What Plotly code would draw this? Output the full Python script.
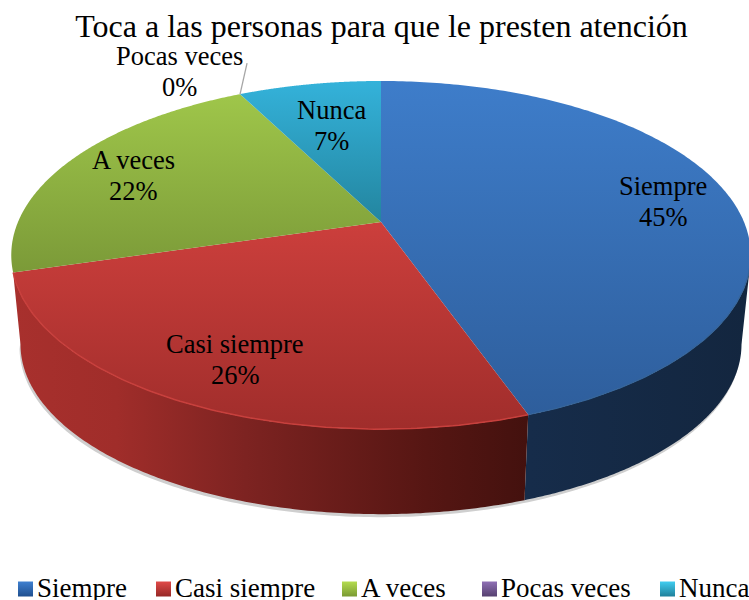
import numpy as np
import plotly.graph_objects as go

# ---- data ----
categories = ["Siempre", "Casi siempre", "A veces", "Pocas veces", "Nunca"]
values = [44.6, 25.8, 22.1, 0.0, 7.5]
shown_percent = [45, 26, 22, 0, 7]
title_text = "Toca a las personas para que le presten atención"

# ---- style ----
FONT = "Liberation Serif"
top_colors = {
    "Siempre": ("#3e7dca", "#2e5e9c"),
    "Casi siempre": ("#cc3f3c", "#a02d2b"),
    "A veces": ("#9fc64a", "#7b9a38"),
    "Pocas veces": ("#8064a2", "#5c4776"),
    "Nunca": ("#34b2da", "#23859f"),
}
legend_colors = {
    "Siempre": ("#3f80d0", "#1f4f8f"), "Casi siempre": ("#e04a48", "#962826"),
    "A veces": ("#b4dc50", "#7a9a33"), "Pocas veces": ("#8f70b5", "#55406f"),
    "Nunca": ("#40cdf0", "#20809a"),
}
label_pos = {
    "Siempre": (663, 201), "Casi siempre": (235, 359.5), "A veces": (133, 175.5),
    "Pocas veces": (179, 71), "Nunca": (331, 125),
}
LINE_OFFSET = 15.5
legend_swatch_x = {"Siempre": 25.5, "Casi siempre": 163.5, "A veces": 349.5,
                   "Pocas veces": 489.5, "Nunca": 667.5}
LEGEND_Y, LEGEND_TEXT_Y, LEGEND_TEXT_GAP = 589, 587.5, 11.5
wall_scales = {
    "Siempre": ("#162c4a", "#13263f", 530, 749),
    "Casi siempre": ([[0, "#a8302d"], [0.2, "#a02d2a"], [0.45, "#7d2321"],
                      [0.8, "#561613"], [1, "#43110e"]], None, 13, 530),
}

# ---- projection of the pie disc ----
CX, CY, KX, KY, B = 381, 222, 363, 167.8, 0.19
DEPTH_S, FRONT_BOTTOM, FRONT_TOP = 0.975, 514, 429


def rim(deg, scale=1.0, cy=CY):
    t = np.radians(deg)
    u, v = np.sin(t), -np.cos(t)
    d = 1 - B * v
    return CX + scale * KX * u / d, cy + scale * KY * v / d


BOTTOM_CY = FRONT_BOTTOM - DEPTH_S * (FRONT_TOP - CY)
total = sum(values)
edges = np.concatenate([[0], np.cumsum(values)]) / total * 360
span = {c: (edges[i], edges[i + 1]) for i, c in enumerate(categories)}

fig = go.Figure()

# soft shadow under the wall
sb = span["Casi siempre"][1] + 5
sx, sy = rim(np.linspace(95, sb, 200), DEPTH_S, BOTTOM_CY)
tx, ty = rim(np.linspace(sb, 95, 200), DEPTH_S, BOTTOM_CY - 6)
fig.add_trace(go.Scatter(
    x=np.concatenate([sx - 1, tx]), y=np.concatenate([sy + 3, ty]),
    fill="toself", mode="none", fillcolor="#cfcfcf", showlegend=False, hoverinfo="skip"))

# side walls: the rim and the bottom edge end at their own silhouette points
wall_limits = {
    "Siempre": ((105, span["Siempre"][1]), (101, span["Siempre"][1])),
    "Casi siempre": (span["Casi siempre"], (span["Casi siempre"][0], 259)),
}
for name, (top_lim, bot_lim) in wall_limits.items():
    x1, y1 = rim(np.linspace(top_lim[0], top_lim[1], 160))
    x2, y2 = rim(np.linspace(bot_lim[1], bot_lim[0], 160), DEPTH_S, BOTTOM_CY)
    c = wall_scales[name]
    scale = c[0] if c[1] is None else [[0, c[0]], [1, c[1]]]
    fig.add_trace(go.Scatter(
        x=np.concatenate([x1, x2]), y=np.concatenate([y1, y2]),
        fill="toself", mode="none", showlegend=False, hoverinfo="skip",
        fillgradient=dict(type="horizontal", colorscale=scale, start=c[2], stop=c[3])))

# top faces
for name in categories:
    lo, hi = span[name]
    if hi - lo < 0.01:
        continue
    x, y = rim(np.linspace(lo, hi, 200))
    xs, ys = np.concatenate([[CX], x, [CX]]), np.concatenate([[CY], y, [CY]])
    c1, c2 = top_colors[name]
    fig.add_trace(go.Scatter(
        x=xs, y=ys, fill="toself", mode="none", showlegend=False, hoverinfo="skip",
        fillgradient=dict(type="vertical", colorscale=[[0, c1], [1, c2]],
                          start=float(ys.min()), stop=float(ys.max()))))

# lit rim along the front
for name, col, w in [("Casi siempre", "#c8403d", 1.5), ("Siempre", "#356499", 1.2)]:
    lo, hi = span[name]
    x, y = rim(np.linspace(max(lo, 100), hi, 120))
    fig.add_trace(go.Scatter(x=x, y=y, mode="lines", line=dict(color=col, width=w),
                             showlegend=False, hoverinfo="skip"))

# leader line of the zero slice
lx, ly = rim(np.array(span["Pocas veces"][0]))
fig.add_trace(go.Scatter(x=[lx, lx + 7], y=[ly, ly - 31], mode="lines",
                         line=dict(color="#a6a6a6", width=1.3), showlegend=False, hoverinfo="skip"))

annotations = []

# legend row: swatch plus its name
for name in categories:
    c1, c2 = legend_colors[name]
    fig.add_trace(go.Scatter(
        x=[legend_swatch_x[name]], y=[LEGEND_Y], mode="markers", name=name,
        showlegend=False, hoverinfo="name",
        marker=dict(symbol="square", size=15, color=c1,
                    gradient=dict(type="vertical", color=c2))))
    annotations.append(dict(
        x=legend_swatch_x[name] + LEGEND_TEXT_GAP, y=LEGEND_TEXT_Y, text=name, showarrow=False,
        font=dict(family=FONT, size=27, color="#000000"), xref="x", yref="y",
        xanchor="left", yanchor="middle", xshift=-2))

# data labels, two lines each
for c, p in zip(categories, shown_percent):
    for text, dy in [(c, -LINE_OFFSET), (f"{p}%", LINE_OFFSET)]:
        annotations.append(dict(
            x=label_pos[c][0], y=label_pos[c][1] + dy, text=text, showarrow=False,
            font=dict(family=FONT, size=26.5, color="#000000"), xref="x", yref="y",
            xanchor="center", yanchor="middle"))

fig.update_layout(
    width=749, height=600, margin=dict(l=0, r=0, t=0, b=0, autoexpand=False),
    paper_bgcolor="white", plot_bgcolor="white",
    title=dict(text=title_text, x=381.5 / 749, xanchor="center", y=1 - 26 / 600,
               yanchor="middle", yref="container", font=dict(family=FONT, size=32, color="#000")),
    xaxis=dict(range=[0, 749], visible=False, fixedrange=True),
    yaxis=dict(range=[600, 0], visible=False, fixedrange=True),
    showlegend=False,
    annotations=annotations,
)

fig.write_html("out.html", config={"displayModeBar": False},
               post_script="document.body.style.margin='0';")
